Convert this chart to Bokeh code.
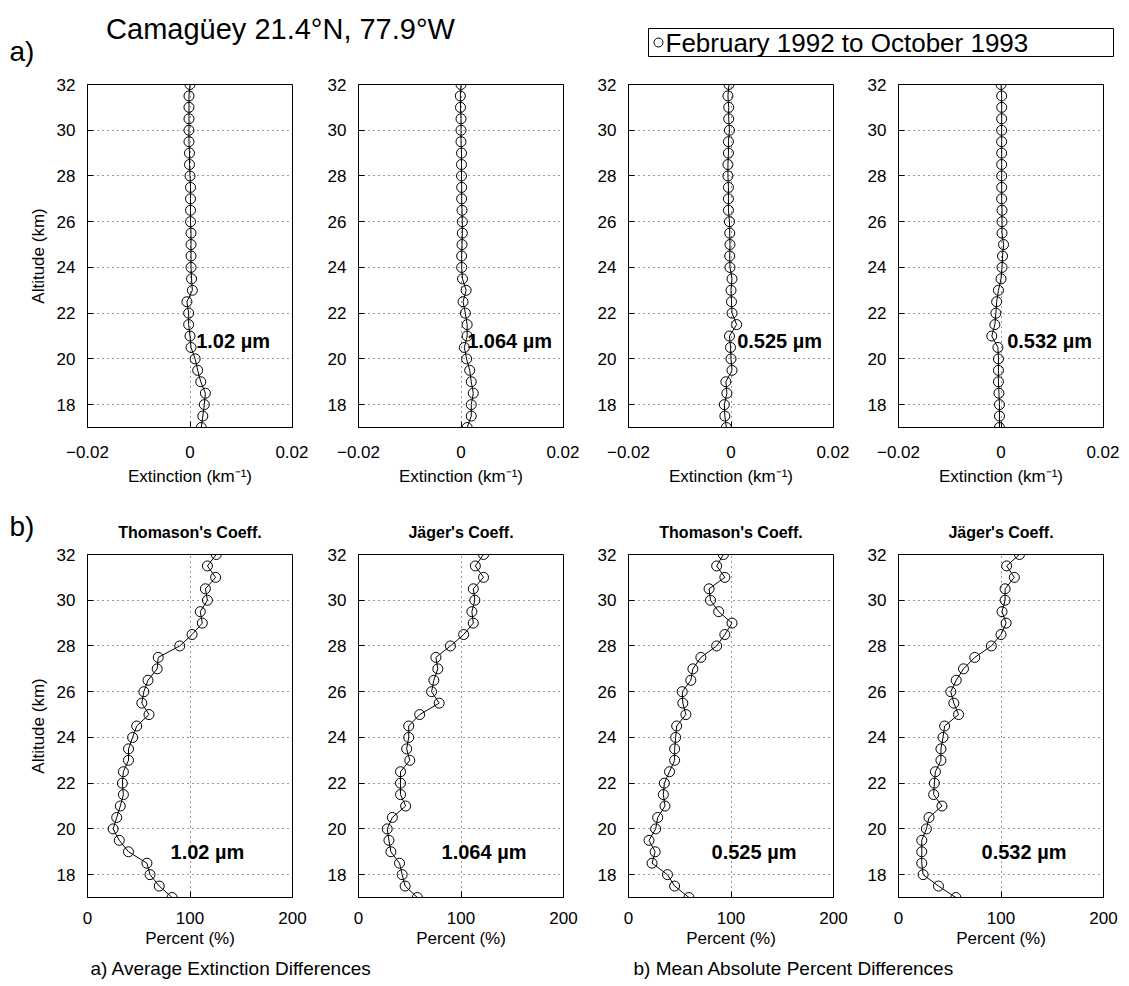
from bokeh.plotting import figure
from bokeh.models import Range1d, FixedTicker, Label, CustomJSTickFormatter
from bokeh.layouts import row, column
from bokeh.embed import file_html
from bokeh.resources import INLINE

FONT = "Liberation Sans"

# ---------------- data ----------------
altitude = [17.0, 17.5, 18.0, 18.5, 19.0, 19.5, 20.0, 20.5, 21.0, 21.5, 22.0, 22.5,
            23.0, 23.5, 24.0, 24.5, 25.0, 25.5, 26.0, 26.5, 27.0, 27.5, 28.0, 28.5,
            29.0, 29.5, 30.0, 30.5, 31.0, 31.5, 32.0]

# a) average extinction differences (km^-1)
ext_1020 = [0.0022, 0.0025, 0.0028, 0.0030, 0.0021, 0.0015, 0.0010, 0.0002, 0.0000, -0.00026,
            -0.00026, -0.0006, 0.00046, 0.0003, 0.0002, 0.0002, 0.0002, 0.0002, 0.0001, 0.0001,
            0.0001, 0.0001, 0.0, -0.0001, -0.0001, -0.0002, -0.0002, -0.0002, -0.0002, -0.0002, 0.0]
ext_1064 = [0.0012, 0.0020, 0.0020, 0.0024, 0.0020, 0.0017, 0.0011, 0.00065, 0.0012, 0.0012,
            0.00085, 0.0004, 0.0010, 0.0003, 0.00013, 0.00013, 0.0002, 0.00026, 0.00026, 0.0002,
            0.00013, 0.00013, 0.0001, 0.0001, 0.0001, 0.0, 0.0, 0.0, -0.0001, -0.00013, 0.0]
ext_0525 = [-0.0009, -0.0012, -0.0013, -0.0008, -0.0010, 0.0002, 0.0, -0.0001, -0.0003, 0.0011,
            0.0002, 0.0001, 0.0, 0.0002, -0.0002, -0.00025, -0.0002, -0.00025, -0.0003, -0.0005,
            -0.0005, -0.0005, -0.0006, -0.0006, -0.0005, -0.0005, -0.0003, -0.00045, -0.00045,
            -0.0006, -0.0004]
ext_0532 = [-0.0003, -0.0003, -0.0003, -0.0004, -0.0005, -0.0005, -0.0005, -0.0006, -0.0018,
            -0.0012, -0.0010, -0.00085, -0.0005, 0.0, 0.0002, 0.0003, 0.0005, 0.0002, 0.0002,
            0.0002, 0.00013, 0.00013, 0.00013, 0.00013, 0.00013, 0.00013, 0.00013, 0.00013,
            0.00013, 0.00013, 0.0]

# b) mean absolute percent differences (%)
pct_1020 = [82.5, 70, 61, 58, 40, 31, 25, 28.5, 32, 35, 34, 35, 40, 40, 44, 48, 60, 53, 55, 59,
            68, 69, 90, 102, 112, 110, 117, 115, 125, 117, 125.6]
pct_1064 = [57.4, 45.5, 42.6, 40, 31.6, 29.7, 28, 33, 46, 41, 41, 41, 50, 47, 49, 49, 59.7, 78.7,
            71.3, 73.5, 77.4, 75.5, 89.7, 102.6, 112, 110.6, 113.5, 112, 122, 114, 122]
pct_0525 = [59, 45, 38, 23, 26, 20, 26.5, 28.5, 35.6, 34, 35, 40, 45, 45, 46, 47, 56, 53, 52.4,
            60.8, 62.8, 70.6, 86, 94, 101, 88, 80, 78.6, 94, 86, 92.6]
pct_0532 = [56, 39, 24, 22.7, 22.7, 22.7, 27.2, 29.8, 42.4, 34.3, 35, 36, 41.4, 41.4, 43.4, 45,
            58.6, 54, 51, 56.3, 63.4, 74.4, 90.6, 100, 105, 101, 104, 104, 113, 105.5, 118]

wavelengths = ["1.02 \u00b5m", "1.064 \u00b5m", "0.525 \u00b5m", "0.532 \u00b5m"]
coeff_titles = ["Thomason's Coeff.", "J\u00e4ger's Coeff.", "Thomason's Coeff.", "J\u00e4ger's Coeff."]
ext_series = [ext_1020, ext_1064, ext_0525, ext_0532]
pct_series = [pct_1020, pct_1064, pct_0525, pct_0532]

alt_ticks = [18, 20, 22, 24, 26, 28, 30, 32]
ext_ticks = [-0.02, 0, 0.02]
pct_ticks = [0, 100, 200]

title_text = "Camag\u00fcey 21.4\u00b0N, 77.9\u00b0W"
legend_text = "February 1992 to October 1993"
caption_a = "a) Average Extinction Differences"
caption_b = "b) Mean Absolute Percent Differences"

# ---------------- layout constants ----------------
PW, PH = 205, 343
LEFTS = [87, 50, 49, 49]
RIGHT = 16
TOTAL_W = sum(LEFTS) + 4 * (PW + RIGHT)


def panel(xvals, xrange, xticks, xformatter, xlabel, left, ylabel, top, bottom,
          note, note_x, note_y, tick_standoff, label_standoff):
    p = figure(width=left + PW + RIGHT, height=top + PH + bottom,
               x_range=Range1d(*xrange), y_range=Range1d(17, 32),
               output_backend="svg", toolbar_location=None,
               min_border_left=left, min_border_right=RIGHT,
               min_border_top=top, min_border_bottom=bottom,
               background_fill_color="white", border_fill_color="white")
    p.outline_line_color = "black"
    p.outline_line_width = 1
    p.xaxis.ticker = FixedTicker(ticks=xticks)
    p.yaxis.ticker = FixedTicker(ticks=alt_ticks)
    if xformatter is not None:
        p.xaxis.formatter = xformatter
    for ax in (p.xaxis, p.yaxis):
        ax.major_tick_in = 6
        ax.major_tick_out = 0
        ax.minor_tick_line_color = None
        ax.axis_line_color = "black"
        ax.major_label_text_font = FONT
        ax.major_label_text_font_size = "17px"
        ax.major_label_text_color = "black"
        ax.axis_label_text_font = FONT
        ax.axis_label_text_font_size = "17px"
        ax.axis_label_text_font_style = "normal"
        ax.axis_label_text_color = "black"
    p.xaxis.major_label_standoff = tick_standoff
    p.xaxis.axis_label = xlabel
    p.xaxis.axis_label_standoff = label_standoff
    p.yaxis.major_label_standoff = 12
    if ylabel:
        p.yaxis.axis_label = ylabel
        p.yaxis.axis_label_standoff = 6
    for g in (p.xgrid, p.ygrid):
        g.grid_line_color = "black"
        g.grid_line_alpha = 0.8
        g.grid_line_dash = "1 4"
        g.grid_line_width = 1
    p.xgrid.ticker = FixedTicker(ticks=xticks)
    p.ygrid.ticker = FixedTicker(ticks=alt_ticks)

    p.line(xvals, altitude, line_color="black", line_width=1)
    p.scatter(xvals, altitude, marker="circle", size=10, fill_color=None,
              line_color="black", line_width=1)
    p.add_layout(Label(x=note_x, y=note_y, text=note, text_font=FONT,
                       text_font_size="20px", text_font_style="bold",
                       text_baseline="middle", text_align="left", text_color="black"))
    return p


def canvas(w, h):
    c = figure(width=w, height=h, x_range=Range1d(0, w), y_range=Range1d(h, 0),
               output_backend="svg", toolbar_location=None, min_border=0,
               x_axis_location=None, y_axis_location=None,
               background_fill_color="white", border_fill_color="white")
    c.grid.visible = False
    c.outline_line_color = None
    return c


ext_fmt = CustomJSTickFormatter(code="""
    if (Math.abs(tick) < 1e-12) { return '0'; }
    return (tick < 0 ? '\\u2212' : '') + Math.abs(tick).toFixed(2);
""")

# header (page y 0..70)
header = canvas(TOTAL_W, 70)
header.add_layout(Label(x=280, y=28, text=title_text, text_font=FONT, text_font_size="29px",
                        text_align="center", text_baseline="alphabetic", text_color="black"))
header.add_layout(Label(x=9, y=51, text="a)", text_font=FONT, text_font_size="28px",
                        text_align="left", text_baseline="middle", text_color="black"))
header.quad(left=[648], right=[1113], top=[28], bottom=[56], fill_color="white",
            line_color="black", line_width=1)
header.scatter([658], [42], marker="circle", size=9, fill_color=None, line_color="black")
header.add_layout(Label(x=665, y=42, text=legend_text, text_font=FONT, text_font_size="26px",
                        text_align="left", text_baseline="middle", text_color="black"))

# top row (page y 70..497)
top_figs = []
for i in range(4):
    top_figs.append(panel(ext_series[i], (-0.02, 0.02), ext_ticks, ext_fmt,
                          "Extinction (km\u207b\u00b9)", LEFTS[i],
                          "Altitude (km)" if i == 0 else None, 14, 70,
                          wavelengths[i], 0.0012, 20.8, 18, 6))

# mid strip (page y 497..544)
mid = canvas(TOTAL_W, 47)
mid.add_layout(Label(x=9, y=29, text="b)", text_font=FONT, text_font_size="28px",
                     text_align="left", text_baseline="middle", text_color="black"))
centers = []
acc = 0
for i in range(4):
    centers.append(acc + LEFTS[i] + PW / 2)
    acc += LEFTS[i] + PW + RIGHT
for i in range(4):
    mid.add_layout(Label(x=centers[i], y=35, text=coeff_titles[i], text_font=FONT,
                         text_font_size="16px", text_font_style="bold",
                         text_align="center", text_baseline="middle", text_color="black"))

# bottom row (page y 544..952)
bot_figs = []
for i in range(4):
    bot_figs.append(panel(pct_series[i], (0, 200), pct_ticks, None, "Percent (%)", LEFTS[i],
                          "Altitude (km)" if i == 0 else None, 10, 55,
                          wavelengths[i], 81, 19, 14, 2))

# footer (page y 952..986)
footer = canvas(TOTAL_W, 34)
footer.add_layout(Label(x=90, y=16, text=caption_a, text_font=FONT, text_font_size="19px",
                        text_align="left", text_baseline="middle", text_color="black"))
footer.add_layout(Label(x=633, y=16, text=caption_b, text_font=FONT, text_font_size="19px",
                        text_align="left", text_baseline="middle", text_color="black"))

layout = column(header, row(*top_figs, spacing=0), mid, row(*bot_figs, spacing=0), footer,
                spacing=0)

open("out.html", "w").write(file_html(layout, INLINE, title="Camaguey"))
